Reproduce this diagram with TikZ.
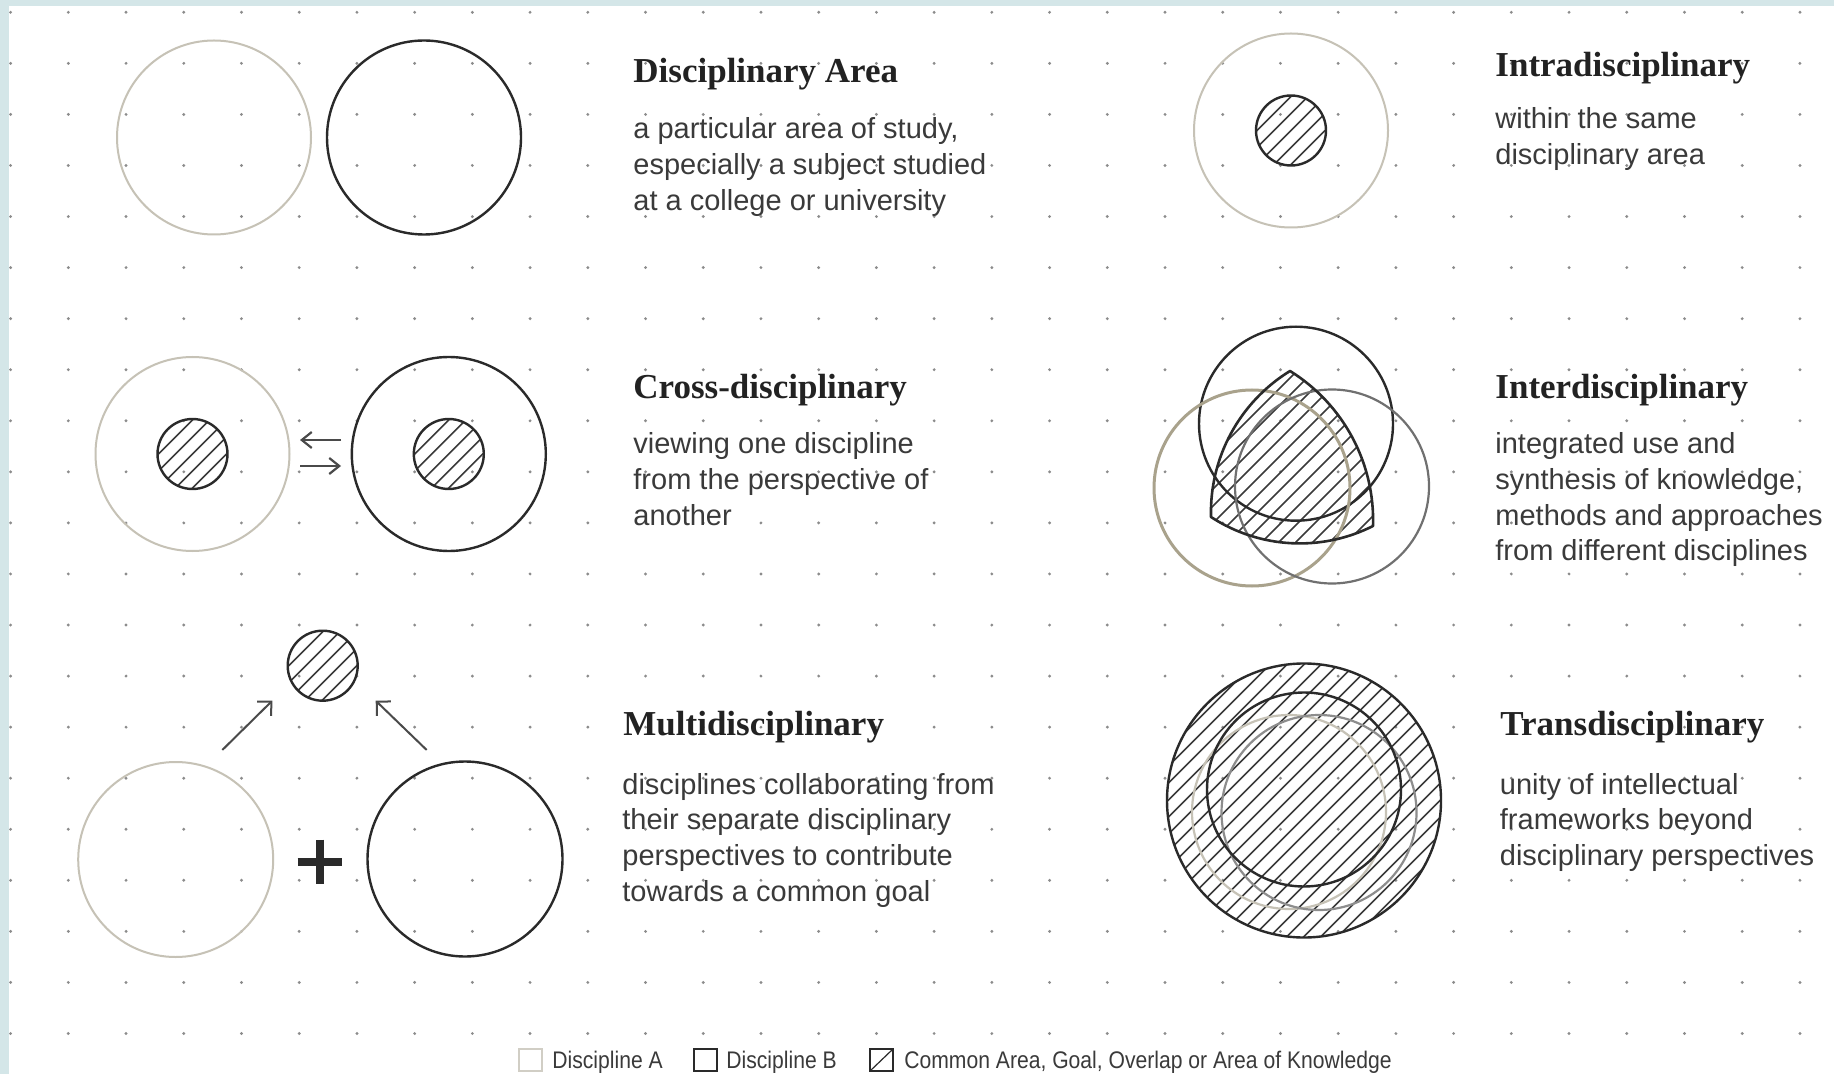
\documentclass[tikz,border=0pt]{standalone}
\usepackage{fontspec}
\setmainfont{Liberation Sans}
\newfontfamily\titlefont{Liberation Serif}
\newfontfamily\legendfont[FakeStretch=0.88]{Liberation Sans}
\usetikzlibrary{arrows.meta}

\definecolor{colA}{HTML}{C6C2B6}
\definecolor{colB}{HTML}{2A2A2A}
\definecolor{hatchc}{HTML}{3A3A3A}
\definecolor{dotc}{HTML}{8C8C8C}
\definecolor{stripc}{HTML}{D4E6E8}
\definecolor{txtc}{HTML}{3A3A3A}
\definecolor{ttlc}{HTML}{222222}
\definecolor{interA}{HTML}{A9A28C}
\definecolor{interC}{HTML}{707070}
\definecolor{arrowc}{HTML}{4A4A4A}

% hatch lines "/" around centre (#1,#2), half size #3 (coordinates in px, y down)
\newcommand\hatchlines[3]{%
  \foreach \k in {-18,...,18}{%
    \draw[hatchline] ({#1+\k*17-#3-5},{#2+#3+5}) -- ({#1+\k*17+#3+5},{#2-#3-5});}}

\begin{document}
\begin{tikzpicture}[x=0.5pt, y=-0.5pt,
  circA/.style={draw=colA, line width=1pt},
  circB/.style={draw=colB, line width=1.2pt},
  hatchline/.style={draw=hatchc, line width=0.8pt},
  body/.style={font=\fontsize{14.5pt}{17pt}\selectfont, text=txtc, anchor=base west, inner sep=0pt},
  headline/.style={font=\titlefont\bfseries\fontsize{17.5pt}{20pt}\selectfont, text=ttlc, anchor=base west, inner sep=0pt},
  legendtext/.style={font=\legendfont\fontsize{12pt}{14pt}\selectfont, text=txtc, anchor=base west, inner sep=0pt},
  arrmulti/.style={draw=arrowc, line width=1pt, -{Straight Barb[length=5pt,width=10pt]}},
  arrcross/.style={draw=arrowc, line width=1.1pt, -{Straight Barb[length=5pt,width=8pt]}},
  plusbar/.style={draw=colB, line width=4pt}]

\useasboundingbox (0,0) rectangle (1834,1074);
\fill[white] (0,0) rectangle (1834,1074);
\fill[stripc] (0,0) rectangle (9,1074);
\fill[stripc] (0,0) rectangle (1834,6);

% dot grid
\foreach \i in {0,...,31}{\foreach \j in {0,...,20}{%
  \fill[dotc] ({10.6+57.72*\i},{12.3+51.06*\j}) circle (0.8pt);}}

% ---------- Disciplinary Area ----------
\coordinate (daA) at (214,137.5);
\coordinate (daB) at (424,137.5);
\draw[circA] (daA) circle[radius=97];
\draw[circB] (daB) circle[radius=97];

% ---------- Intradisciplinary ----------
\coordinate (inO) at (1291,130.5);
\begin{scope}\clip (inO) circle[radius=35]; \hatchlines{1291}{130.5}{35}\end{scope}
\draw[circB] (inO) circle[radius=35];
\draw[circA] (inO) circle[radius=97];

% ---------- Cross-disciplinary ----------
\coordinate (crA) at (192.5,454);
\coordinate (crB) at (448.8,454);
\begin{scope}\clip (crA) circle[radius=35]; \hatchlines{192.5}{454}{35}\end{scope}
\begin{scope}\clip (crB) circle[radius=35]; \hatchlines{448.8}{454}{35}\end{scope}
\draw[circA] (crA) circle[radius=97];
\draw[circB] (crA) circle[radius=35];
\draw[circB] (crB) circle[radius=97];
\draw[circB] (crB) circle[radius=35];
\coordinate (crU0) at (341,440); \coordinate (crU1) at (300,440);
\coordinate (crD0) at (300,466); \coordinate (crD1) at (341,466);
\draw[arrcross] (crU0) -- (crU1);
\draw[arrcross] (crD0) -- (crD1);

% ---------- Interdisciplinary ----------
\coordinate (iA) at (1290,371);
\coordinate (iB) at (1211,517);
\coordinate (iC) at (1373,526);
\begin{scope}
  \clip (iA) .. controls (1239.5,402.1) and (1209.3,457.7) .. (iB)
        .. controls (1259.5,548.7) and (1321.3,552.1) .. (iC)
        .. controls (1375,463.2) and (1343.4,404.2) .. (iA) -- cycle;
  \hatchlines{1291}{462}{120}
\end{scope}
\draw[draw=colB, line width=1.2pt] (1296,423.7) circle[radius=97];
\draw[draw=interA, line width=1.5pt] (1252,488) circle[radius=98];
\draw[draw=interC, line width=1.1pt] (1332,486.5) circle[radius=97];
\draw[draw=colB, line width=1.3pt, line join=round]
  (iA) .. controls (1239.5,402.1) and (1209.3,457.7) .. (iB)
  .. controls (1259.5,548.7) and (1321.3,552.1) .. (iC)
  .. controls (1375,463.2) and (1343.4,404.2) .. (iA) -- cycle;

% ---------- Multidisciplinary ----------
\coordinate (muA) at (175.7,859.5);
\coordinate (muB) at (465,859);
\coordinate (muG) at (322.7,665.7);
\begin{scope}\clip (muG) circle[radius=35]; \hatchlines{322.7}{665.7}{35}\end{scope}
\draw[circB] (muG) circle[radius=35];
\draw[circA] (muA) circle[radius=97.5];
\draw[circB] (muB) circle[radius=97.5];
\coordinate (muL0) at (222.3,750); \coordinate (muL1) at (272.3,700.7);
\coordinate (muR0) at (426.7,750); \coordinate (muR1) at (375.7,700.7);
\draw[arrmulti] (muL0) -- (muL1);
\draw[arrmulti] (muR0) -- (muR1);
\coordinate (plusC) at (319.5,861.5);
\draw[plusbar] ([xshift=-11pt]plusC) -- ([xshift=11pt]plusC);
\draw[plusbar] ([yshift=11pt]plusC) -- ([yshift=-11pt]plusC);

% ---------- Transdisciplinary ----------
\coordinate (trO) at (1304,800.5);
\begin{scope}\clip (trO) circle[radius=137]; \hatchlines{1304}{800.5}{140}\end{scope}
\draw[draw=colA, line width=1.1pt] (1289,812) circle[radius=97];
\draw[draw=interC!80, line width=1.1pt] (1319,812.5) circle[radius=97.5];
\draw[circB] (1304,789.5) circle[radius=97];
\draw[circB] (trO) circle[radius=137];

% ---------- Texts ----------
\node[headline] (t1) at (633,83) {Disciplinary Area};
\node[body] (b11) at (633,138.5) {a particular area of study,};
\node[body] (b12) at (633,174.5) {especially a subject studied};
\node[body] (b13) at (633,210.5) {at a college or university};

\node[headline] (t2) at (1495,77) {Intradisciplinary};
\node[body] (b21) at (1495,129) {within the same};
\node[body] (b22) at (1495,165) {disciplinary area};

\node[headline] (t3) at (633,399) {Cross-disciplinary};
\node[body] (b31) at (633,453.5) {viewing one discipline};
\node[body] (b32) at (633,489.3) {from the perspective of};
\node[body] (b33) at (633,525.1) {another};

\node[headline] (t4) at (1495,399) {Interdisciplinary};
\node[body] (b41) at (1495,453.5) {integrated use and};
\node[body] (b42) at (1495,489.3) {synthesis of knowledge,};
\node[body] (b43) at (1495,525.1) {methods and approaches};
\node[body] (b44) at (1495,560.9) {from different disciplines};

\node[headline] (t5) at (623,735) {Multidisciplinary};
\node[body] (b51) at (622,794) {disciplines collaborating from};
\node[body] (b52) at (622,829.8) {their separate disciplinary};
\node[body] (b53) at (622,865.6) {perspectives to contribute};
\node[body] (b54) at (622,901.4) {towards a common goal};

\node[headline] (t6) at (1500,735) {Transdisciplinary};
\node[body] (b61) at (1499.5,794) {unity of intellectual};
\node[body] (b62) at (1499.5,829.8) {frameworks beyond};
\node[body] (b63) at (1499.5,865.6) {disciplinary perspectives};

% ---------- Legend ----------
\draw[draw=colA!80, line width=0.9pt] (519,1049) rectangle (542,1071);
\node[legendtext] (lA) at (552,1068) {Discipline A};
\draw[draw=colB, line width=0.9pt] (694,1049) rectangle (717,1071);
\node[legendtext] (lB) at (726,1068) {Discipline B};
\draw[draw=colB, line width=0.9pt] (870,1049) rectangle (893,1071);
\draw[draw=colB, line width=0.6pt] (870,1071) -- (893,1049);
\node[legendtext] (lC) at (904,1068) {Common Area, Goal, Overlap or Area of Knowledge};
\end{tikzpicture}
\end{document}
